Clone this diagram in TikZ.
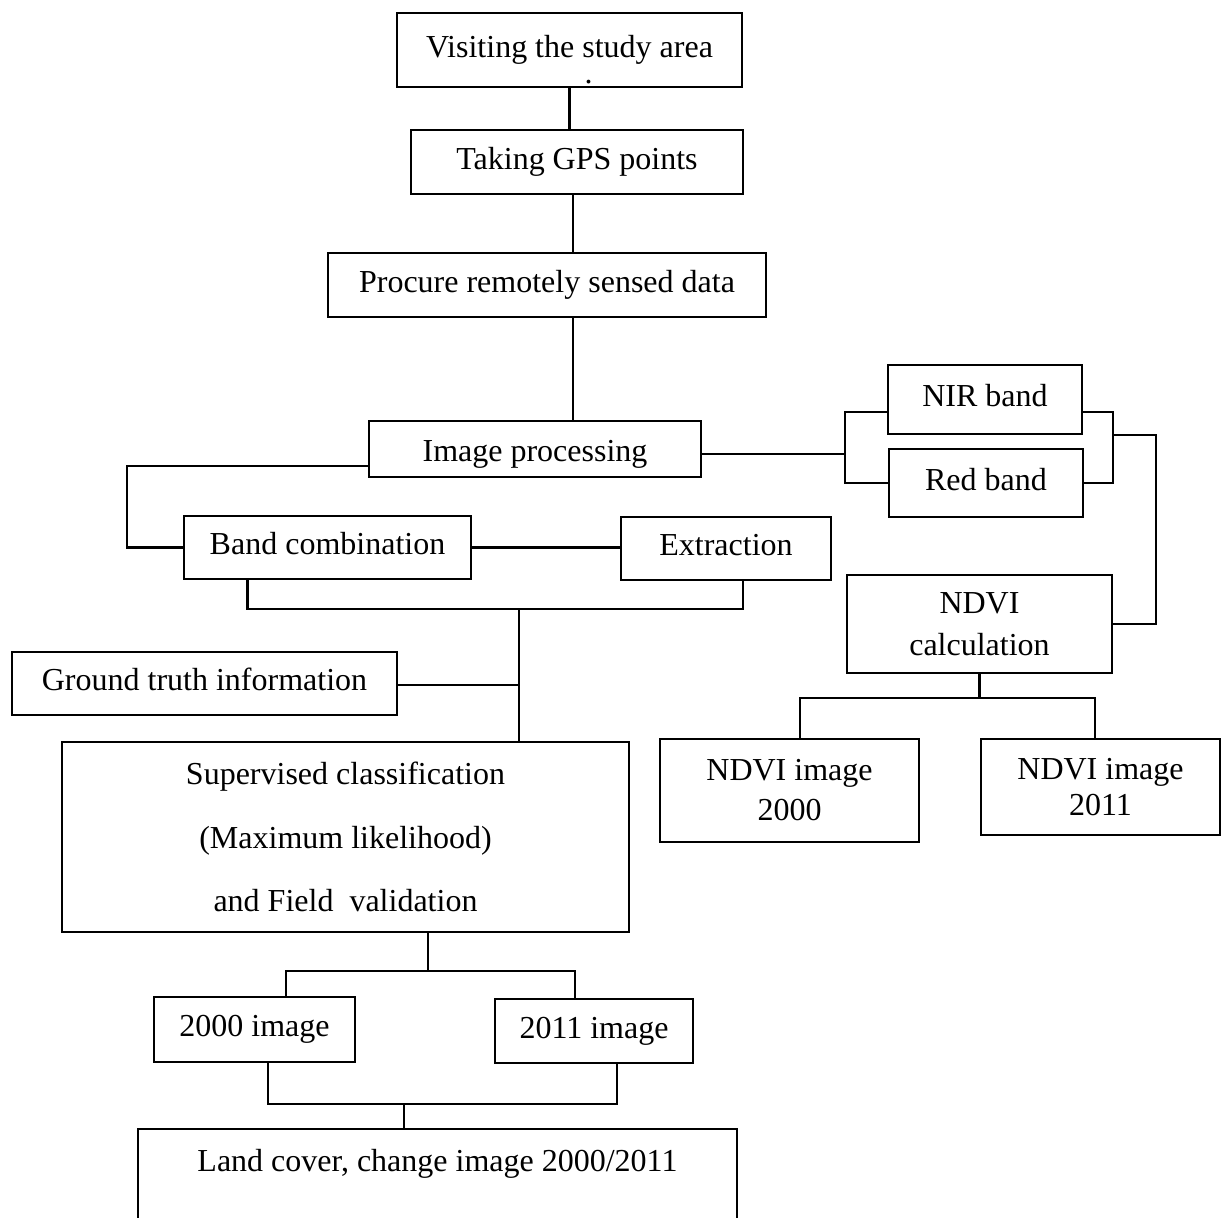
\documentclass[tikz,border=0pt]{standalone}
\usepackage{fontspec}
\setmainfont{Liberation Serif}
\usepackage{tikz}
\usetikzlibrary{calc}

\begin{document}
\begin{tikzpicture}[
    x=0.5pt, y=-0.5pt,
    every node/.style={font=\fontsize{16}{19}\selectfont},
    block/.style={draw, line width=1.2pt, inner sep=0pt, align=center},
    oneline/.style={block, text height=11pt, text depth=3.5pt},
    link/.style={line width=1.1pt}
]
\useasboundingbox (0,0) rectangle (1222,1218);

% main chain
\node[block, minimum width=172.5pt, minimum height=37pt] (visit) at (569.5,50) {\rule{0pt}{21pt}Visiting the study area\\[-6pt]\hspace*{1.2em}.};
\node[oneline, minimum width=166pt, minimum height=32pt]   (gps) at (577,162) {Taking GPS points};
\node[oneline, minimum width=219pt, minimum height=32pt]   (procure) at (547,285) {Procure remotely sensed data};
\node[block, text height=14pt, text depth=1.5pt, minimum width=166pt, minimum height=28pt] (improc) at (535,449) {Image processing};
\node[oneline, minimum width=143.5pt, minimum height=31.5pt] (bandcomb) at (327.5,547.5) {Band combination};
\node[oneline, minimum width=105pt, minimum height=31.5pt]   (extract) at (726,548.5) {Extraction};
\node[oneline, minimum width=192.5pt, minimum height=31.5pt] (ground) at (204.5,683.5) {Ground truth information};
\node[block, minimum width=283.5pt, minimum height=95pt]   (superv) at (345.5,837) {Supervised classification\\[12.75pt](Maximum likelihood)\\[12.75pt]and Field~ validation};
\node[oneline, minimum width=100.5pt, minimum height=32.5pt] (img00) at (254.5,1029.5) {2000 image};
\node[oneline, minimum width=99pt, minimum height=32pt]      (img11) at (594,1031) {2011 image};
\node[block, minimum width=299.5pt, text height=21pt, text depth=40pt, anchor=north] (landcov) at (437.5,1128) {Land cover, change image 2000/2011};

% NDVI branch
\node[oneline, minimum width=97pt, minimum height=34.5pt]  (nir) at (985,399.5) {NIR band};
\node[oneline, minimum width=97pt, minimum height=34pt]    (red) at (986,483) {Red band};
\node[block, minimum width=132.5pt, minimum height=49pt] (ndvi) at (979.5,624) {NDVI\\[2pt]calculation};
\node[block, minimum width=129.5pt, minimum height=51.5pt] (ndvi00) at (789.5,790.5) {NDVI image\\[1pt]2000};
\node[block, minimum width=119.5pt, minimum height=48pt]   (ndvi11) at (1100.5,787) {NDVI image\\[-1pt]2011};

\coordinate (join1) at (519,609);
\coordinate (split2) at (428,971);
\coordinate (join3) at (404,1104);
\coordinate (splitR) at (845,454);
\coordinate (mergeR) at (1113,435);
\coordinate (split4) at (980,698);

\draw[link] (visit.south) -- (visit.south |- gps.north);
\draw[link] (573,0 |- gps.south) -- (573,0 |- procure.north);
\draw[link] (573,0 |- procure.south) -- (573,0 |- improc.north);
\draw[link] ($(improc.west)+(0,17)$) -| ($(bandcomb.west)+(-56,0)$) -- (bandcomb.west);
\draw[link] (bandcomb.east) -- (bandcomb.east -| extract.west);
\draw[link] ($(bandcomb.south)+(-80,0)$) |- (join1) -| ($(extract.south)+(17,0)$);
\draw[link] (join1) -- (join1 |- superv.north);
\draw[link] ($(ground.east)+(0,1.5)$) -- (join1 |- 0,685);
\draw[link] (superv.south -| split2) -- (split2);
\draw[link] (img00.north -| 286,0) |- (split2) -| (img11.north -| 575,0);
\draw[link] (img00.south -| 268,0) |- (join3) -| (img11.south -| 617,0);
\draw[link] (join3) -- (join3 |- landcov.north);

% bands and NDVI
\draw[link] ($(improc.east)+(0,5)$) -- (splitR);
\draw[link] ($(nir.west)+(0,12.5)$) -| (845,0 |- red.west) -- (red.west);
\draw[link] ($(nir.east)+(0,12.5)$) -| (1113,0 |- red.east) -- (red.east);
\draw[link] (mergeR) -| (1156,0 |- ndvi.east) -- (ndvi.east);
\draw[link] (ndvi.south) -- (ndvi.south |- split4);
\draw[link] (ndvi00.north -| 800,0) |- (split4) -| (ndvi11.north -| 1095,0);

\end{tikzpicture}
\end{document}
